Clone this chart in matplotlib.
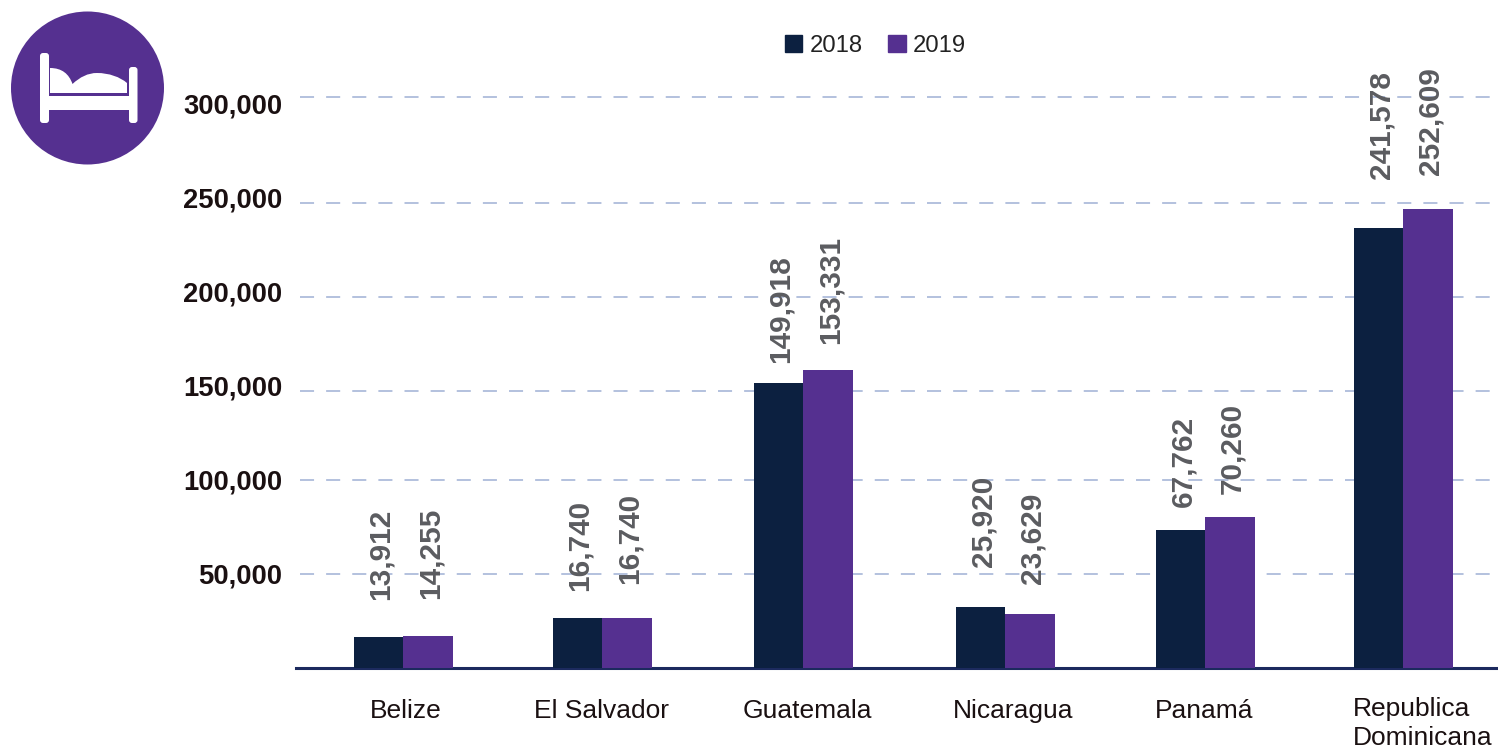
import numpy as np
import matplotlib
matplotlib.use("Agg")
import matplotlib.pyplot as plt
from matplotlib.patches import Circle, FancyBboxPatch, PathPatch, Rectangle
from matplotlib.path import Path

plt.rcParams['font.family'] = ['Liberation Sans', 'DejaVu Sans']

countries = ["Belize", "El Salvador", "Guatemala", "Nicaragua", "Panamá", "Republica\nDominicana"]
# bar heights (they differ a bit from the printed labels)
bars_2018 = [16000, 26100, 151100, 32400, 73400, 234000]
bars_2019 = [17000, 26100, 158000, 28700, 79800, 244100]
labels_2018 = ["13,912", "16,740", "149,918", "25,920", "67,762", "241,578"]
labels_2019 = ["14,255", "16,740", "153,331", "23,629", "70,260", "252,609"]
tick_values = [50000, 100000, 150000, 200000, 250000, 300000]
tick_labels = ["50,000", "100,000", "150,000", "200,000", "250,000", "300,000"]
grid_values = [50000, 100000, 147300, 197300, 247300, 303700]

# gap between bar top and its label, in pixels
pad_2018 = [37, 27, 20, 40, 23, 49]
pad_2019 = [37, 34, 26, 30, 23, 34]
# category label shift from the group centre, in group widths
name_shift = [0.015, 0.0, 0.02, 0.04, -0.005, 0.0]

W, H = 1498, 751
DARK = "#0c2040"
PURPLE = "#553090"
GRID = "#9fb0d4"
GRAY = "#5b5c60"
BLACK = "#1a1011"

fig = plt.figure(figsize=(W / 100, H / 100), dpi=100)
ax = fig.add_axes([296 / W, (H - 667.5) / H, (W - 296) / W, 608 / H])

# the groups are not quite evenly spaced in the original
x = np.array([0, 0.995, 2, 3.01, 4.01, 5])
bw = 0.2475
ax.set_xlim(-0.535, 5.475)
ax.set_ylim(0, 608 * 50000 / 94)

ax.hlines(grid_values, -0.515, 5.475, color=GRID, lw=1.1, linestyles=[(0, (9.2, 7.9))], zorder=1)
ax.bar(x - bw / 2, bars_2018, bw, color=DARK, zorder=3)
ax.bar(x + bw / 2, bars_2019, bw, color=PURPLE, zorder=3)

for i in range(len(countries)):
    ax.annotate(labels_2018[i], (x[i] - bw / 2, bars_2018[i]), xytext=(2, pad_2018[i] * 0.72),
                textcoords="offset points", rotation=90, ha="center", va="bottom",
                fontsize=21.4, fontweight="bold", color=GRAY, zorder=4)
    ax.annotate(labels_2019[i], (x[i] + bw / 2, bars_2019[i]), xytext=(2, pad_2019[i] * 0.72),
                textcoords="offset points", rotation=90, ha="center", va="bottom",
                fontsize=21.4, fontweight="bold", color=GRAY, zorder=4)

for s in ["top", "left", "right"]:
    ax.spines[s].set_visible(False)
ax.spines["bottom"].set_color("#1c2a5e")
ax.spines["bottom"].set_linewidth(2.2)
ax.spines["bottom"].set_zorder(2)

ax.set_yticks(tick_values)
ax.set_yticklabels(tick_labels, fontsize=19.7, fontweight="bold", color=BLACK)
ax.tick_params(axis="y", length=0, pad=10)

ax.set_xticks([])
for i, name in enumerate(countries):
    if "\n" in name:
        ax.annotate(name, (x[i], 0), xytext=(-36, -21), textcoords="offset points",
                    ha="left", va="top", fontsize=19, color=BLACK, linespacing=1.28)
    else:
        ax.annotate(name, (x[i] + name_shift[i], 0), xytext=(0, -23), textcoords="offset points",
                    ha="center", va="top", fontsize=19, color=BLACK)

# legend
handles = [Rectangle((0, 0), 1, 1, color=DARK), Rectangle((0, 0), 1, 1, color=PURPLE)]
fig.legend(handles, ["2018", "2019"], loc="center", bbox_to_anchor=(875.5 / W, 1 - 46 / H), ncol=2,
           frameon=False, fontsize=17.2, handlelength=0.74, handleheight=0.74,
           handletextpad=0.3, columnspacing=1.07, labelcolor="#222222")

# bed icon, drawn in pixel coordinates on an overlay
ov = fig.add_axes([0, 0, 1, 1], zorder=5)
ov.set_xlim(0, W)
ov.set_ylim(H, 0)
ov.axis("off")
ov.add_patch(Circle((87.5, 88), 76.5, color=PURPLE, lw=0))
for (x0, y0, w, h) in [(40, 53, 9, 70), (129, 67, 8.5, 56)]:
    ov.add_patch(FancyBboxPatch((x0 + 3, y0 + 3), w - 6, h - 6, boxstyle="round,pad=3",
                                fc="white", ec="none"))
ov.add_patch(Rectangle((48, 96), 82, 13.5, fc="white", ec="none"))
verts = [(50, 68), (62, 68), (69, 74), (72.5, 84),
         (80, 77), (88, 73), (97, 73),
         (109, 73), (120, 77), (127, 83),
         (127, 93), (50, 93), (50, 68)]
codes = [Path.MOVETO, Path.CURVE4, Path.CURVE4, Path.CURVE4,
         Path.CURVE4, Path.CURVE4, Path.CURVE4,
         Path.CURVE4, Path.CURVE4, Path.CURVE4,
         Path.LINETO, Path.LINETO, Path.CLOSEPOLY]
ov.add_patch(PathPatch(Path(verts, codes), fc="white", ec="none"))

fig.savefig("out.png", dpi=100)
